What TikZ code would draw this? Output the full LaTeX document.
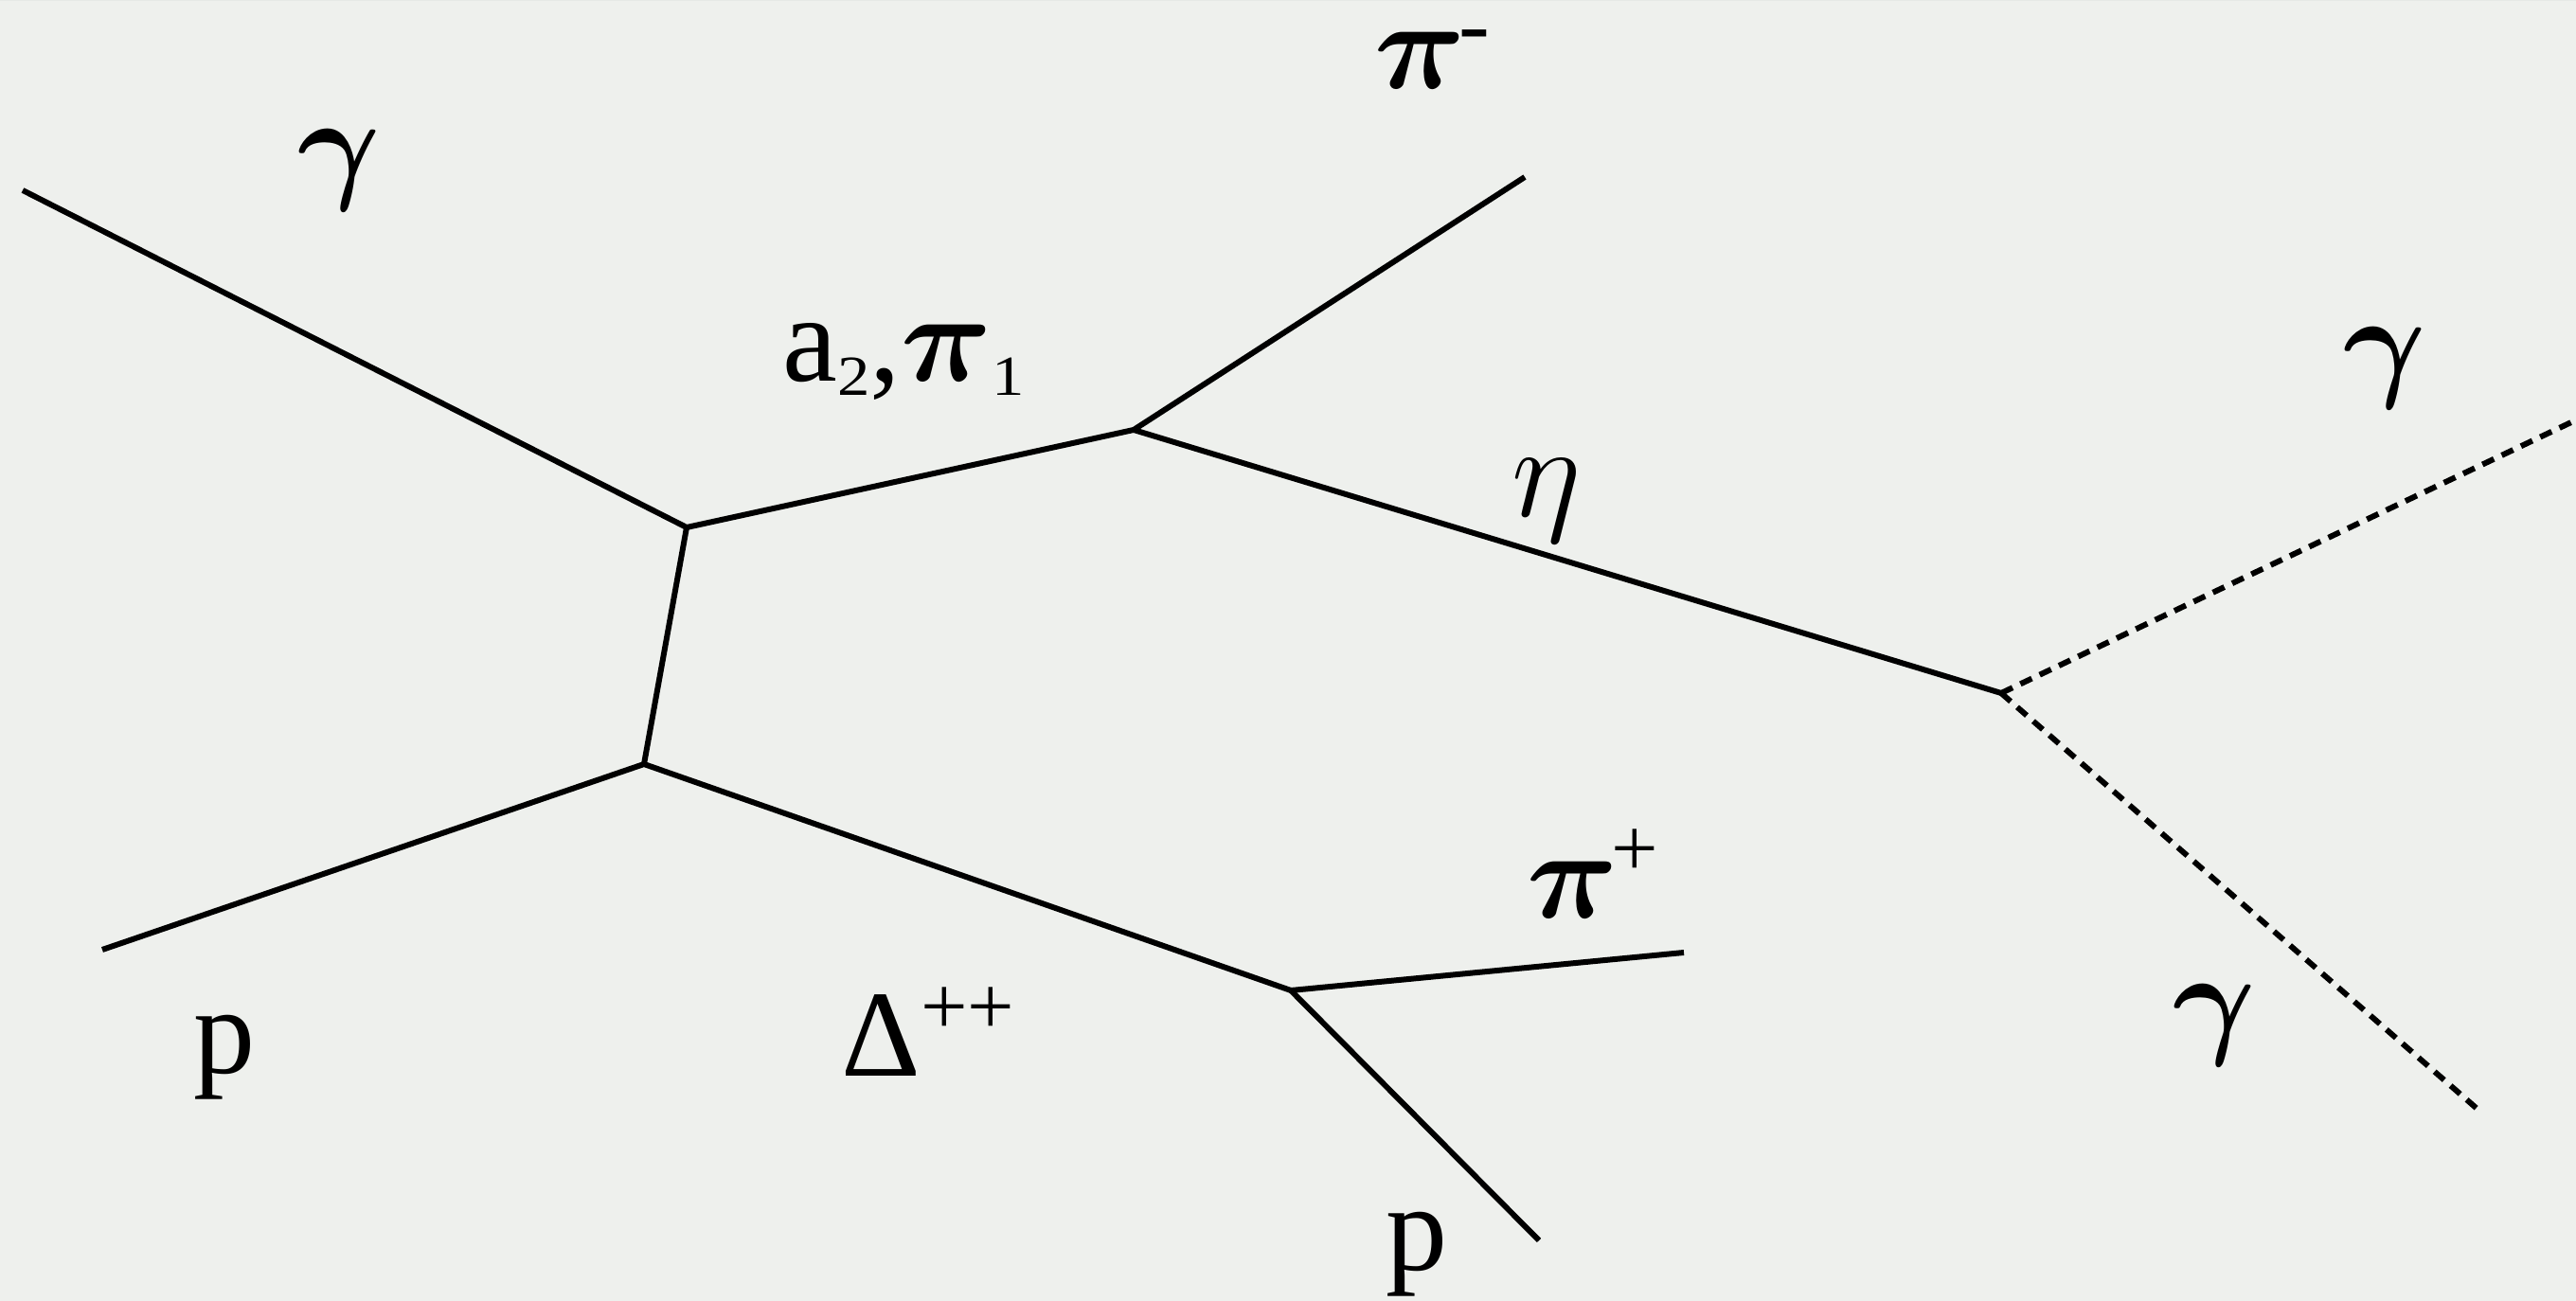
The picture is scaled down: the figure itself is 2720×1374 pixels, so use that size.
\RequirePackage{fix-cm}
\documentclass[tikz,border=0pt]{standalone}
\usepackage{graphicx}
\usepackage{fontspec}
\setmainfont{Liberation Serif}
\definecolor{bgc}{RGB}{238,240,237}
\definecolor{gridc}{RGB}{230,233,230}
\tikzset{
  prop/.style={line width=1.7pt},
  phot/.style={line width=1.7pt, dash pattern=on 3.8pt off 2.6pt},
  lbl/.style={font=\fontsize{37}{44}\selectfont, inner sep=0pt}
}
\newcommand{\gk}[1]{{\fontsize{38}{44}\selectfont\boldmath$#1$}}
\newcommand{\gr}[1]{{\fontsize{40}{44}\selectfont$#1$}}
\newcommand{\sbs}[1]{\raisebox{-4pt}{\scalebox{1.15}[1]{\fontsize{17}{17}\selectfont #1}}}
\newcommand{\supp}[1]{\raisebox{12.6pt}{\fontsize{25}{25}\selectfont #1}}
\newcommand{\supm}{\kern-2pt\raisebox{10.2pt}{\fontsize{28}{28}\selectfont -}}
\begin{document}
\begin{tikzpicture}[x=0.01cm,y=-0.01cm]
\fill[bgc] (0,0) rectangle (2720,1374);
\useasboundingbox (0,0) rectangle (2720,1374);
\draw[gridc, line width=0.6pt, step=0.29cm] (0,-1374) grid (2720,0);
% vertices and endpoints
\coordinate (gin) at (24,201);
\coordinate (A) at (725,557);
\coordinate (B) at (680,807);
\coordinate (pin) at (108,1003);
\coordinate (C) at (1197,454);
\coordinate (pim) at (1610,187);
\coordinate (D) at (2113,732);
\coordinate (gup) at (2715,446);
\coordinate (gdn) at (2619,1174);
\coordinate (E) at (1363,1046);
\coordinate (pip) at (1778,1006);
\coordinate (pout) at (1625,1310);
% lines
\draw[prop] (gin) -- (A);
\draw[prop] (A) -- (C);
\draw[prop] (A) -- (B);
\draw[prop] (pin) -- (B);
\draw[prop] (B) -- (E);
\draw[prop] (E) -- (pip);
\draw[prop] (E) -- (pout);
\draw[prop] (C) -- (pim);
\draw[prop] (C) -- (D);
\draw[phot] (D) -- (gup);
\draw[phot] (D) -- (gdn);
% labels
\node[lbl] (l1) at (358,180) {\gk{\gamma}};
\node[lbl, anchor=base] (l2) at (1512,94) {\gk{\pi}\supm};
\node[lbl, anchor=base] (l3) at (954,403) {a\sbs{2},\gk{\pi}\sbs{1}};
\node[lbl] (l4) at (2518,389) {\gk{\gamma}};
\node[lbl] (l5) at (1633,529) {\gr{\eta}};
\node[lbl, anchor=base] (l6) at (1682,970) {\gk{\pi}\kern-2pt\supp{+}};
\node[lbl] (l7) at (2338,1083) {\gk{\gamma}};
\node[lbl] (l8) at (237,1117) {p};
\node[lbl, anchor=base] (l9) at (980,1137) {Δ\supp{++}};
\node[lbl] (l10) at (1496,1325) {p};
\end{tikzpicture}
\end{document}
